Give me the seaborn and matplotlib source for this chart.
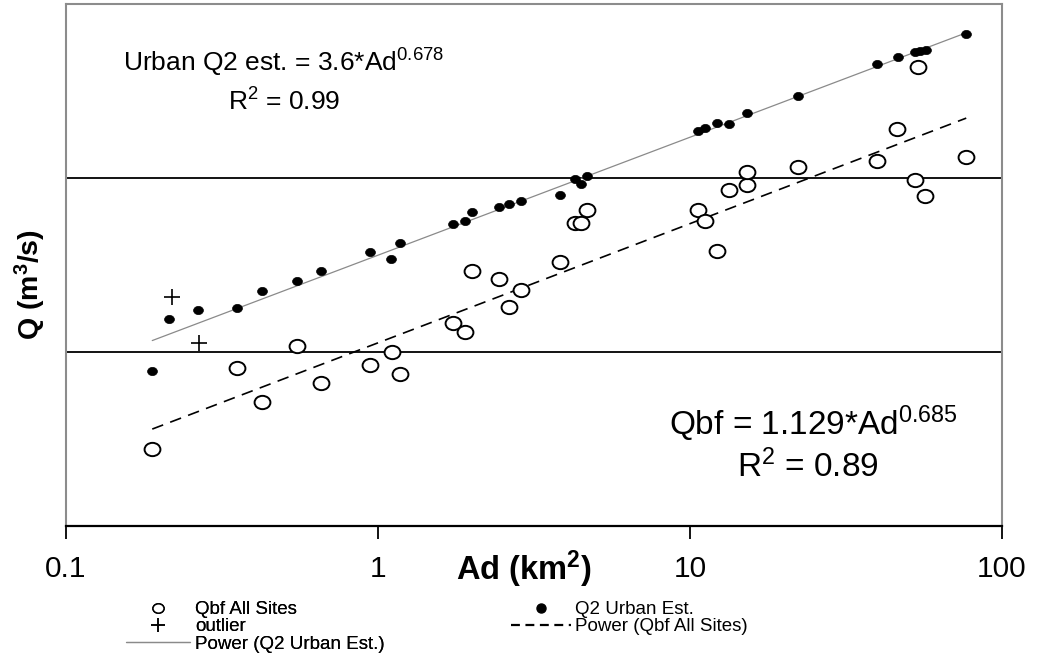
import numpy as np
import pandas as pd
import matplotlib
matplotlib.use("Agg")
import matplotlib.pyplot as plt
from matplotlib.path import Path
from matplotlib.lines import Line2D
from matplotlib.ticker import NullLocator, FixedLocator
import seaborn as sns

# ---------------- data ----------------
urban_ad = [0.189, 0.214, 0.264, 0.354, 0.426, 0.551, 0.658, 0.944, 1.103, 1.179,
            1.743, 1.905, 2.005, 2.448, 2.635, 2.879, 3.84, 4.29, 4.48, 4.69,
            10.63, 11.19, 12.24, 13.37, 15.27, 22.24, 39.84, 46.5, 52.75, 54.7,
            57.2, 76.8]
urban_q2 = [0.778, 1.55, 1.74, 1.79, 2.24, 2.56, 2.92, 3.75, 3.42, 4.23,
            5.44, 5.66, 6.38, 6.81, 7.09, 7.38, 7.99, 9.87, 9.24, 10.3,
            18.6, 19.4, 20.7, 20.4, 23.6, 29.6, 45.2, 49.6, 53.0, 53.7,
            54.4, 67.2]

qbf_ad = [0.189, 0.354, 0.426, 0.551, 0.658, 0.944, 1.111, 1.179, 1.743, 1.905,
          2.005, 2.448, 2.635, 2.879, 3.84, 4.29, 4.48, 4.69, 10.63, 11.19,
          12.24, 13.37, 15.27, 15.27, 22.24, 39.84, 46.17, 53.9, 52.75, 56.8,
          76.8]
qbf_q = [0.277, 0.809, 0.516, 1.08, 0.663, 0.842, 1.0, 0.747, 1.47, 1.30,
         2.92, 2.63, 1.81, 2.27, 3.29, 5.51, 5.51, 6.55, 6.55, 5.66,
         3.81, 8.53, 9.12, 10.8, 11.6, 12.5, 19.1, 43.4, 9.74, 7.88,
         13.2]

outlier_ad = [0.218, 0.267]
outlier_q = [2.07, 1.13]

# power-law trend coefficients printed on the chart
urban_coef, urban_exp = 3.6, 0.678
qbf_coef, qbf_exp = 1.129, 0.685

x_ticks = [0.1, 1, 10, 100]
x_tick_labels = ["0.1", "1", "10", "100"]

# ---------------- style ----------------
sns.set_theme(style="white")
plt.rcParams['font.family'] = ['Liberation Sans', 'DejaVu Sans']
plt.rcParams['mathtext.fontset'] = 'custom'
plt.rcParams['mathtext.rm'] = 'Liberation Sans'
plt.rcParams['mathtext.it'] = 'Liberation Sans:italic'
plt.rcParams['mathtext.bf'] = 'Liberation Sans:bold'
plt.rcParams['text.color'] = 'black'
plt.rcParams['axes.labelcolor'] = 'black'
plt.rcParams['xtick.color'] = 'black'
plt.rcParams['ytick.color'] = 'black'

W, H = 1037, 657
fig = plt.figure(figsize=(W / 100, H / 100), dpi=100)
L, R, T, B = 66, 1002, 4, 526
ax = fig.add_axes([L / W, (H - B) / H, (R - L) / W, (B - T) / H])

# slightly flattened circle marker
circ = Path.unit_circle()
ell = Path(circ.vertices * np.array([1.0, 0.84]), circ.codes)

df_u = pd.DataFrame({"Ad": urban_ad, "Q": urban_q2})
df_b = pd.DataFrame({"Ad": qbf_ad, "Q": qbf_q})
df_o = pd.DataFrame({"Ad": outlier_ad, "Q": outlier_q})

# trend lines
xu = np.geomspace(min(urban_ad), max(urban_ad), 60)
xb = np.geomspace(min(qbf_ad), max(qbf_ad), 60)
sns.lineplot(x=xu, y=urban_coef * xu ** urban_exp, ax=ax, color="#8a8a8a",
             lw=0.9, zorder=2)
sns.lineplot(x=xb, y=qbf_coef * xb ** qbf_exp, ax=ax, color="black",
             lw=1.2, zorder=2)
ax.lines[-1].set_dashes((7, 4.5))

sns.scatterplot(data=df_b, x="Ad", y="Q", ax=ax, marker=ell, s=130,
                facecolor="white", edgecolor="black", linewidth=1.4, zorder=3)
sns.scatterplot(data=df_u, x="Ad", y="Q", ax=ax, marker=ell, s=50,
                color="black", edgecolor="black", linewidth=0.5, zorder=4)
sns.scatterplot(data=df_o, x="Ad", y="Q", ax=ax, marker="+", s=130,
                color="black", linewidth=1.2, zorder=4)

ax.set_xscale("log")
ax.set_yscale("log")
ax.set_xlim(0.1, 100)
ax.set_ylim(0.1, 100)

# horizontal grid at 1 and 10
ax.yaxis.set_major_locator(FixedLocator([1, 10]))
ax.yaxis.set_minor_locator(NullLocator())
ax.set_yticklabels([])
ax.tick_params(axis="y", length=0)
ax.grid(axis="y", color="black", lw=1.3)
ax.grid(axis="x", visible=False)

ax.xaxis.set_major_locator(FixedLocator(x_ticks))
ax.xaxis.set_minor_locator(NullLocator())
ax.set_xticklabels(x_tick_labels)
ax.tick_params(axis="x", direction="out", length=9, width=1.3, color="black",
               labelcolor="black", labelsize=21.5, pad=12, bottom=True)

for s in ["left", "top", "right"]:
    ax.spines[s].set_color("#8c8c8c")
    ax.spines[s].set_linewidth(1.5)
ax.spines["bottom"].set_color("black")
ax.spines["bottom"].set_linewidth(1.6)

def fx(px):
    return px / W
def fy(py):
    return 1 - py / H

ax.set_xlabel("Ad (km$^{\\mathbf{2}}$)", fontsize=23.5, fontweight="bold", color="black")
ax.xaxis.set_label_coords(fx(524), fy(580), transform=fig.transFigure)
ax.xaxis.label.set_va("baseline")
ax.set_ylabel("Q (m$^{\\mathbf{3}}$/s)", fontsize=20.5, fontweight="bold", color="black")
ax.yaxis.set_label_coords(fx(30), fy(285), transform=fig.transFigure)
ax.yaxis.label.set_va("center")

fig.text(fx(284), fy(63), "Urban Q2 est. = 3.6*Ad$^{0.678}$", fontsize=19,
         ha="center", va="center", color="black")
fig.text(fx(284), fy(102), "R$^2$ = 0.99", fontsize=19, ha="center", va="center",
         color="black")
fig.text(fx(813), fy(424), "Qbf = 1.129*Ad$^{0.685}$", fontsize=24,
         ha="center", va="center", color="black")
fig.text(fx(808), fy(467), "R$^2$ = 0.89", fontsize=24, ha="center", va="center",
         color="black")

# legend (two columns)
h_open = Line2D([], [], marker=ell, ls="none", markersize=8, markerfacecolor="white",
                markeredgecolor="black", markeredgewidth=1.1)
h_plus = Line2D([], [], marker="+", ls="none", markersize=9.5, color="black", markeredgewidth=1.1)
h_ugr = Line2D([], [], color="#8a8a8a", lw=0.9)
h_fill = Line2D([], [], marker="o", ls="none", markersize=6.5, color="black")
h_dash = Line2D([], [], color="black", lw=1.6, dashes=(4, 2.5))

leg_kw = dict(loc="upper left", frameon=False, fontsize=13.5, labelspacing=0.01,
              borderpad=0, borderaxespad=0, labelcolor="black")
leg1 = fig.legend([h_open, h_plus, h_ugr],
                  ["Qbf All Sites", "outlier", "Power (Q2 Urban Est.)"],
                  bbox_to_anchor=(fx(126), fy(601)),
                  handlelength=3.4, handletextpad=0.3, **leg_kw)
fig.add_artist(leg1)
leg2 = fig.legend([h_fill, h_dash], ["Q2 Urban Est.", "Power (Qbf All Sites)"],
                  bbox_to_anchor=(fx(511), fy(601)),
                  handlelength=3.2, handletextpad=0.2, **leg_kw)

fig.savefig("out.png", dpi=100)
